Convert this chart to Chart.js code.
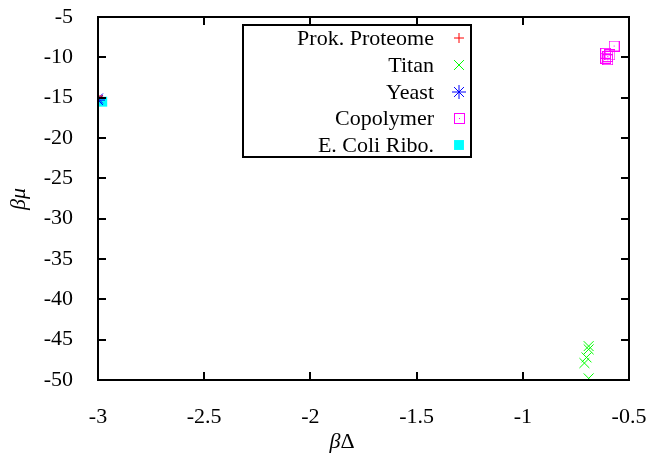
<!DOCTYPE html>
<html>
<head>
<meta charset="utf-8">
<script src="https://cdn.jsdelivr.net/npm/chart.js@4/dist/chart.umd.min.js"></script>
</head>
<body style="margin:0;background:#fff">
<div style="width:652px;height:459px"><canvas id="grafica"></canvas></div>
<script>
// datos (x = beta*Delta, y = beta*mu)
var seriesNames = ["Prok. Proteome", "Titan", "Yeast", "Copolymer", "E. Coli Ribo."];
var prokX = [-3, -3];
var prokY = [-14.8, -15.0];
var titanX = [-0.69, -0.69, -0.70, -0.71, -0.69];
var titanY = [-45.8, -46.2, -47.2, -47.9, -49.8];
var yeastX = [-3, -3];
var yeastY = [-15.1, -15.3];
var copoX = [-0.57, -0.61, -0.59, -0.60, -0.61, -0.60];
var copoY = [-8.6, -9.5, -9.7, -9.9, -10.1, -10.3];
var ecoliX = [-2.98];
var ecoliY = [-15.5];
var xTicks = [-3, -2.5, -2, -1.5, -1, -0.5];
var yTicks = [-5, -10, -15, -20, -25, -30, -35, -40, -45, -50];

var fuente = "Liberation Serif, DejaVu Serif, serif";

function puntos(xs, ys) {
    return xs.map(function (x, i) { return { x: x, y: ys[i] }; });
}

// cuadrado con punto (como gnuplot)
function cuadradoPunto() {
    var c = document.createElement("canvas");
    c.width = 11; c.height = 11;
    var g = c.getContext("2d");
    g.strokeStyle = "#ff00ff";
    g.lineWidth = 1;
    g.strokeRect(0.5, 0.5, 10, 10);
    g.fillStyle = "#ff00ff";
    g.fillRect(5, 5, 1, 1);
    return c;
}
var copoStyle = cuadradoPunto();

var colores = ["#ff0000", "#00ff00", "#0000ff", "#ff00ff", "#00ffff"];

// marco con ticks hacia adentro, leyenda con caja y titulos
var marco = {
    id: "marco",
    afterDraw: function (chart) {
        var ctx = chart.ctx, a = chart.chartArea;
        var sx = chart.scales.x, sy = chart.scales.y;
        ctx.save();
        ctx.strokeStyle = "#000";
        ctx.lineWidth = 2;
        ctx.beginPath();
        xTicks.forEach(function (t) {
            var px = Math.round(sx.getPixelForValue(t));
            ctx.moveTo(px, a.bottom); ctx.lineTo(px, a.bottom - 8);
            ctx.moveTo(px, a.top); ctx.lineTo(px, a.top + 8);
        });
        yTicks.forEach(function (t) {
            var py = Math.round(sy.getPixelForValue(t));
            ctx.moveTo(a.left, py); ctx.lineTo(a.left + 8, py);
            ctx.moveTo(a.right, py); ctx.lineTo(a.right - 8, py);
        });
        ctx.stroke();
        ctx.strokeRect(a.left, a.top, a.right - a.left, a.bottom - a.top);

        // leyenda
        var lx = 243, ly = 25, lw = 228, lh = 132;
        ctx.fillStyle = "#fff";
        ctx.fillRect(lx, ly, lw, lh);
        ctx.strokeRect(lx, ly, lw, lh);
        ctx.font = "22px " + fuente;
        ctx.textAlign = "right";
        ctx.textBaseline = "middle";
        var filas = [38, 65, 92, 118, 145];
        seriesNames.forEach(function (n, i) {
            ctx.fillStyle = "#000";
            ctx.fillText(n, 434, filas[i] + 1);
            var ds = chart.data.datasets[i];
            ctx.strokeStyle = ds.borderColor;
            ctx.fillStyle = ds.backgroundColor;
            ctx.lineWidth = ds.borderWidth || 1;
            if (ds.pointStyle === copoStyle) {
                ctx.drawImage(copoStyle, 454, filas[i] - 5);
            } else {
                Chart.helpers.drawPoint(ctx, {
                    pointStyle: ds.pointStyle, radius: ds.pointRadius,
                    rotation: 0, borderWidth: ds.borderWidth
                }, 459, filas[i]);
            }
        });

        // titulos de ejes: beta y mu en cursiva, Delta recta
        ctx.fillStyle = "#000";
        ctx.textAlign = "left";
        ctx.textBaseline = "alphabetic";
        ctx.font = "italic 22px " + fuente;
        var wb = ctx.measureText("\u03b2").width;
        ctx.font = "22px " + fuente;
        var wd = ctx.measureText("\u0394").width;
        var x0 = 342 - (wb + wd) / 2;
        ctx.font = "italic 22px " + fuente;
        ctx.fillText("\u03b2", x0, 448);
        ctx.font = "22px " + fuente;
        ctx.fillText("\u0394", x0 + wb, 448);

        ctx.translate(25, 199);
        ctx.rotate(-Math.PI / 2);
        ctx.font = "italic 22px " + fuente;
        ctx.textAlign = "center";
        ctx.fillText("\u03b2\u03bc", 0, 0);
        ctx.restore();
    }
};

var grafica = new Chart(document.querySelector("#grafica"), {
    type: "scatter",
    data: {
        datasets: [{
            label: seriesNames[0],
            data: puntos(prokX, prokY),
            pointStyle: "cross",
            pointRadius: 5,
            borderColor: colores[0],
            backgroundColor: colores[0],
            borderWidth: 1
        }, {
            label: seriesNames[1],
            data: puntos(titanX, titanY),
            pointStyle: "crossRot",
            pointRadius: 7,
            borderColor: colores[1],
            backgroundColor: colores[1],
            borderWidth: 1
        }, {
            label: seriesNames[2],
            data: puntos(yeastX, yeastY),
            pointStyle: "star",
            pointRadius: 7,
            borderColor: colores[2],
            backgroundColor: colores[2],
            borderWidth: 1
        }, {
            label: seriesNames[3],
            data: puntos(copoX, copoY),
            pointStyle: copoStyle,
            pointRadius: 6,
            borderColor: colores[3],
            backgroundColor: "rgba(0,0,0,0)",
            borderWidth: 1
        }, {
            label: seriesNames[4],
            data: puntos(ecoliX, ecoliY),
            pointStyle: "rect",
            pointRadius: 7,
            borderColor: colores[4],
            backgroundColor: colores[4],
            borderWidth: 0
        }]
    },
    options: {
        responsive: true,
        maintainAspectRatio: false,
        animation: false,
        layout: { padding: { top: 17, right: 23, left: 0, bottom: 0 } },
        plugins: {
            legend: { display: false },
            tooltip: { enabled: false }
        },
        scales: {
            x: {
                type: "linear",
                min: -3, max: -0.5,
                afterBuildTicks: function (s) { s.ticks = xTicks.map(function (v) { return { value: v }; }); },
                afterFit: function (s) { s.height = 79; s.paddingLeft = 0; s.paddingRight = 0; },
                grid: { display: false },
                border: { display: false },
                ticks: {
                    color: "#000",
                    padding: 16,
                    maxRotation: 0,
                    font: { family: fuente, size: 22 },
                    callback: function (v) { return String(v); }
                }
            },
            y: {
                type: "linear",
                min: -50, max: -5,
                afterBuildTicks: function (s) { s.ticks = yTicks.map(function (v) { return { value: v }; }); },
                afterFit: function (s) { s.width = 98; s.paddingTop = 0; s.paddingBottom = 0; },
                grid: { display: false },
                border: { display: false },
                ticks: {
                    color: "#000",
                    padding: 17,
                    font: { family: fuente, size: 22 },
                    callback: function (v) { return String(v); }
                }
            }
        }
    },
    plugins: [marco]
});

// redibujar cuando la fuente serif este lista
if (document.fonts && document.fonts.load) {
    Promise.all([
        document.fonts.load("22px Liberation Serif"),
        document.fonts.load("italic 22px Liberation Serif")
    ]).then(function () { grafica.update(); });
}
</script>
</body>
</html>
